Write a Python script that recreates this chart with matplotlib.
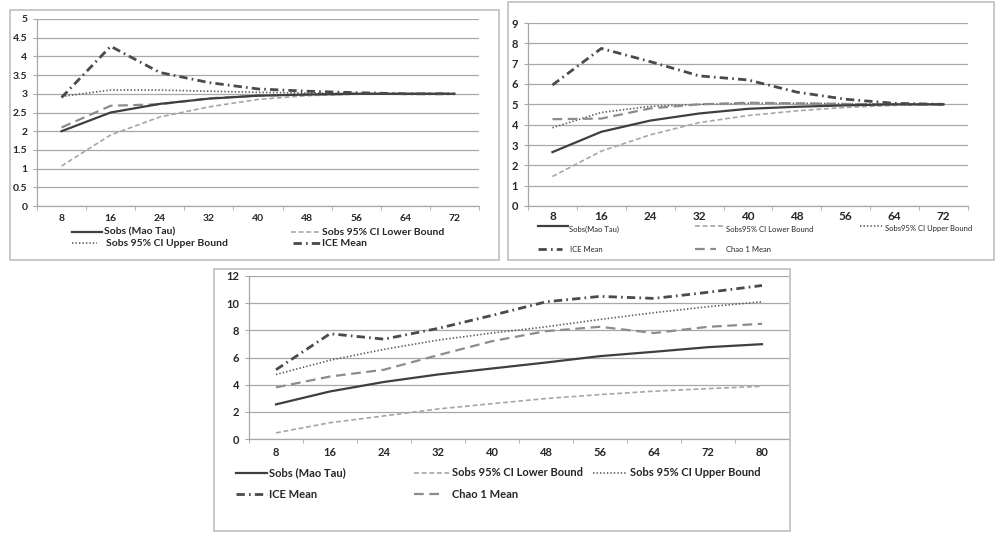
import numpy as np
import matplotlib.pyplot as plt
from matplotlib.lines import Line2D
from matplotlib.patches import Rectangle
from matplotlib.ticker import FuncFormatter

plt.rcParams['font.family'] = ['Lato', 'DejaVu Sans']
plt.rcParams['lines.scale_dashes'] = False

W, H = 998, 538

# ---- data ----
samples_a = [8, 16, 24, 32, 40, 48, 56, 64, 72]
a_sobs = [2.0, 2.5, 2.73, 2.87, 2.95, 2.98, 3.0, 3.0, 3.0]
a_lower = [1.07, 1.9, 2.38, 2.65, 2.85, 2.95, 2.99, 3.0, 3.0]
a_upper = [2.93, 3.1, 3.1, 3.07, 3.04, 3.02, 3.01, 3.0, 3.0]
a_ice = [2.9, 4.27, 3.57, 3.3, 3.13, 3.07, 3.03, 3.0, 3.0]
a_chao = [2.1, 2.68, 2.72, 2.88, 2.95, 2.98, 3.0, 3.0, 3.0]

samples_b = [8, 16, 24, 32, 40, 48, 56, 64, 72]
b_sobs = [2.65, 3.65, 4.2, 4.55, 4.78, 4.88, 4.95, 5.0, 5.0]
b_lower = [1.45, 2.7, 3.5, 4.1, 4.45, 4.68, 4.85, 4.95, 5.0]
b_upper = [3.85, 4.6, 4.9, 5.0, 5.05, 5.05, 5.03, 5.0, 5.0]
b_ice = [5.95, 7.75, 7.1, 6.4, 6.2, 5.6, 5.25, 5.05, 5.0]
b_chao = [4.27, 4.3, 4.8, 5.0, 5.08, 5.05, 5.02, 5.0, 5.0]

samples_c = [8, 16, 24, 32, 40, 48, 56, 64, 72, 80]
c_sobs = [2.55, 3.5, 4.2, 4.75, 5.19, 5.63, 6.1, 6.42, 6.76, 6.98]
c_lower = [0.45, 1.2, 1.7, 2.21, 2.6, 2.98, 3.27, 3.52, 3.71, 3.88]
c_upper = [4.75, 5.8, 6.6, 7.28, 7.8, 8.26, 8.8, 9.3, 9.74, 10.1]
c_ice = [5.1, 7.75, 7.35, 8.14, 9.1, 10.1, 10.5, 10.35, 10.8, 11.3]
c_chao = [3.8, 4.6, 5.1, 6.17, 7.2, 7.94, 8.26, 7.8, 8.26, 8.48]

styles = {
    'sobs': dict(color='#3f3f3f', lw=1.6, ls='-'),
    'lower': dict(color='#a6a6a6', lw=1.2, ls=(0, (3.5, 2))),
    'upper': dict(color='#595959', lw=1.2, ls=(0, (1, 1.5))),
    'ice': dict(color='#4a4a4a', lw=2.0, ls=(0, (6, 3, 1.2, 3))),
    'chao': dict(color='#8c8c8c', lw=1.6, ls=(0, (7, 4))),
}
TXT = '#262626'
GRID = '#a8a8a8'

fig = plt.figure(figsize=(W / 100, H / 100), dpi=100)


def box(x0, y0, x1, y1):
    fig.add_artist(Rectangle((x0 / W, 1 - y1 / H), (x1 - x0) / W, (y1 - y0) / H,
                             transform=fig.transFigure, fill=False,
                             ec='#c4c4c4', lw=1.3))


def panel(x0, y0, x1, y1, cats, series, ymax, ystep, xsize, ysize, xpad=6):
    ax = fig.add_axes([x0 / W, 1 - y1 / H, (x1 - x0) / W, (y1 - y0) / H])
    idx = np.arange(len(cats))
    for key, vals in series:
        st = styles[key]
        ax.plot(idx, vals, color=st['color'], linewidth=st['lw'], linestyle=st['ls'])
    ax.set_xlim(-0.5, len(cats) - 0.5)
    ax.set_ylim(0, ymax)
    ax.set_xticks(idx, [str(c) for c in cats])
    ax.set_xticks(np.arange(len(cats) + 1) - 0.5, minor=True)
    ax.set_yticks(np.arange(0, ymax + ystep / 2, ystep))
    ax.yaxis.set_major_formatter(FuncFormatter(lambda v, p: f'{v:g}'))
    ax.tick_params(axis='x', which='major', length=0, pad=xpad, labelsize=xsize, labelcolor=TXT)
    ax.tick_params(axis='x', which='minor', length=3, color=GRID, direction='out')
    ax.tick_params(axis='y', length=3, color=GRID, pad=4, labelsize=ysize, labelcolor=TXT)
    for lab in ax.get_xticklabels() + ax.get_yticklabels():
        lab.set_fontweight('bold')
    ax.grid(axis='y', color=GRID, lw=0.9)
    ax.set_axisbelow(True)
    for s in ('top', 'right'):
        ax.spines[s].set_visible(False)
    for s in ('left', 'bottom'):
        ax.spines[s].set_color(GRID)
        ax.spines[s].set_linewidth(0.9)
    ax.patch.set_alpha(0)
    return ax


def entry(hx0, hx1, y, key, label, tx, size, weight='bold', ty=None):
    st = styles[key]
    if ty is None:
        ty = y
    fig.add_artist(Line2D([hx0 / W, hx1 / W], [1 - y / H, 1 - y / H],
                          transform=fig.transFigure, color=st['color'],
                          linewidth=st['lw'], linestyle=st['ls']))
    fig.text(tx / W, 1 - ty / H, label, ha='left', va='center', fontsize=size,
             fontweight=weight, color=TXT)


# ---- top left ----
box(10, 10, 499, 260)
panel(37, 19, 479, 206, samples_a,
      [('chao', a_chao), ('lower', a_lower), ('upper', a_upper),
       ('sobs', a_sobs), ('ice', a_ice)], 5, 0.5, 7.5, 7.5)
entry(72, 102, 232, 'sobs', 'Sobs (Mao Tau)', 104, 7.5)
entry(291, 321, 232, 'lower', 'Sobs 95% CI Lower Bound', 322, 7.5)
entry(72, 97, 243, 'upper', 'Sobs 95% CI Upper Bound', 106, 7.5)
entry(293, 321, 243, 'ice', 'ICE Mean', 322, 7.5)

# ---- top right ----
box(508, 2, 994, 260)
panel(528, 23, 968, 206, samples_b,
      [('lower', b_lower), ('upper', b_upper), ('chao', b_chao),
       ('sobs', b_sobs), ('ice', b_ice)], 9, 1, 8.5, 8, xpad=3.5)
entry(538, 568, 226, 'sobs', 'Sobs(Mao Tau)', 569, 5.5, 'normal', ty=229)
entry(695, 725, 226, 'lower', 'Sobs95% CI Lower Bound', 726, 5.5, 'normal', ty=229)
entry(860, 882, 226, 'upper', 'Sobs95% CI Upper Bound', 885, 5.5, 'normal', ty=229)
entry(538, 562, 249, 'ice', 'ICE Mean', 570, 5.5, 'normal')
entry(695, 716, 249, 'chao', 'Chao 1 Mean', 726, 5.5, 'normal')

# ---- bottom ----
box(214, 269, 790, 531)
panel(249, 276, 789, 439, samples_c,
      [('lower', c_lower), ('upper', c_upper), ('chao', c_chao),
       ('sobs', c_sobs), ('ice', c_ice)], 12, 2, 8, 8)
entry(236, 267, 473, 'sobs', 'Sobs (Mao Tau)', 269, 8)
entry(414, 449, 473, 'lower', 'Sobs 95% CI Lower Bound', 452, 8)
entry(593, 627, 473, 'upper', 'Sobs 95% CI Upper Bound', 630, 8)
entry(236, 267, 494, 'ice', 'ICE Mean', 269, 8)
entry(414, 440, 494, 'chao', 'Chao 1 Mean', 452, 8)

fig.savefig('out.png', dpi=100)
